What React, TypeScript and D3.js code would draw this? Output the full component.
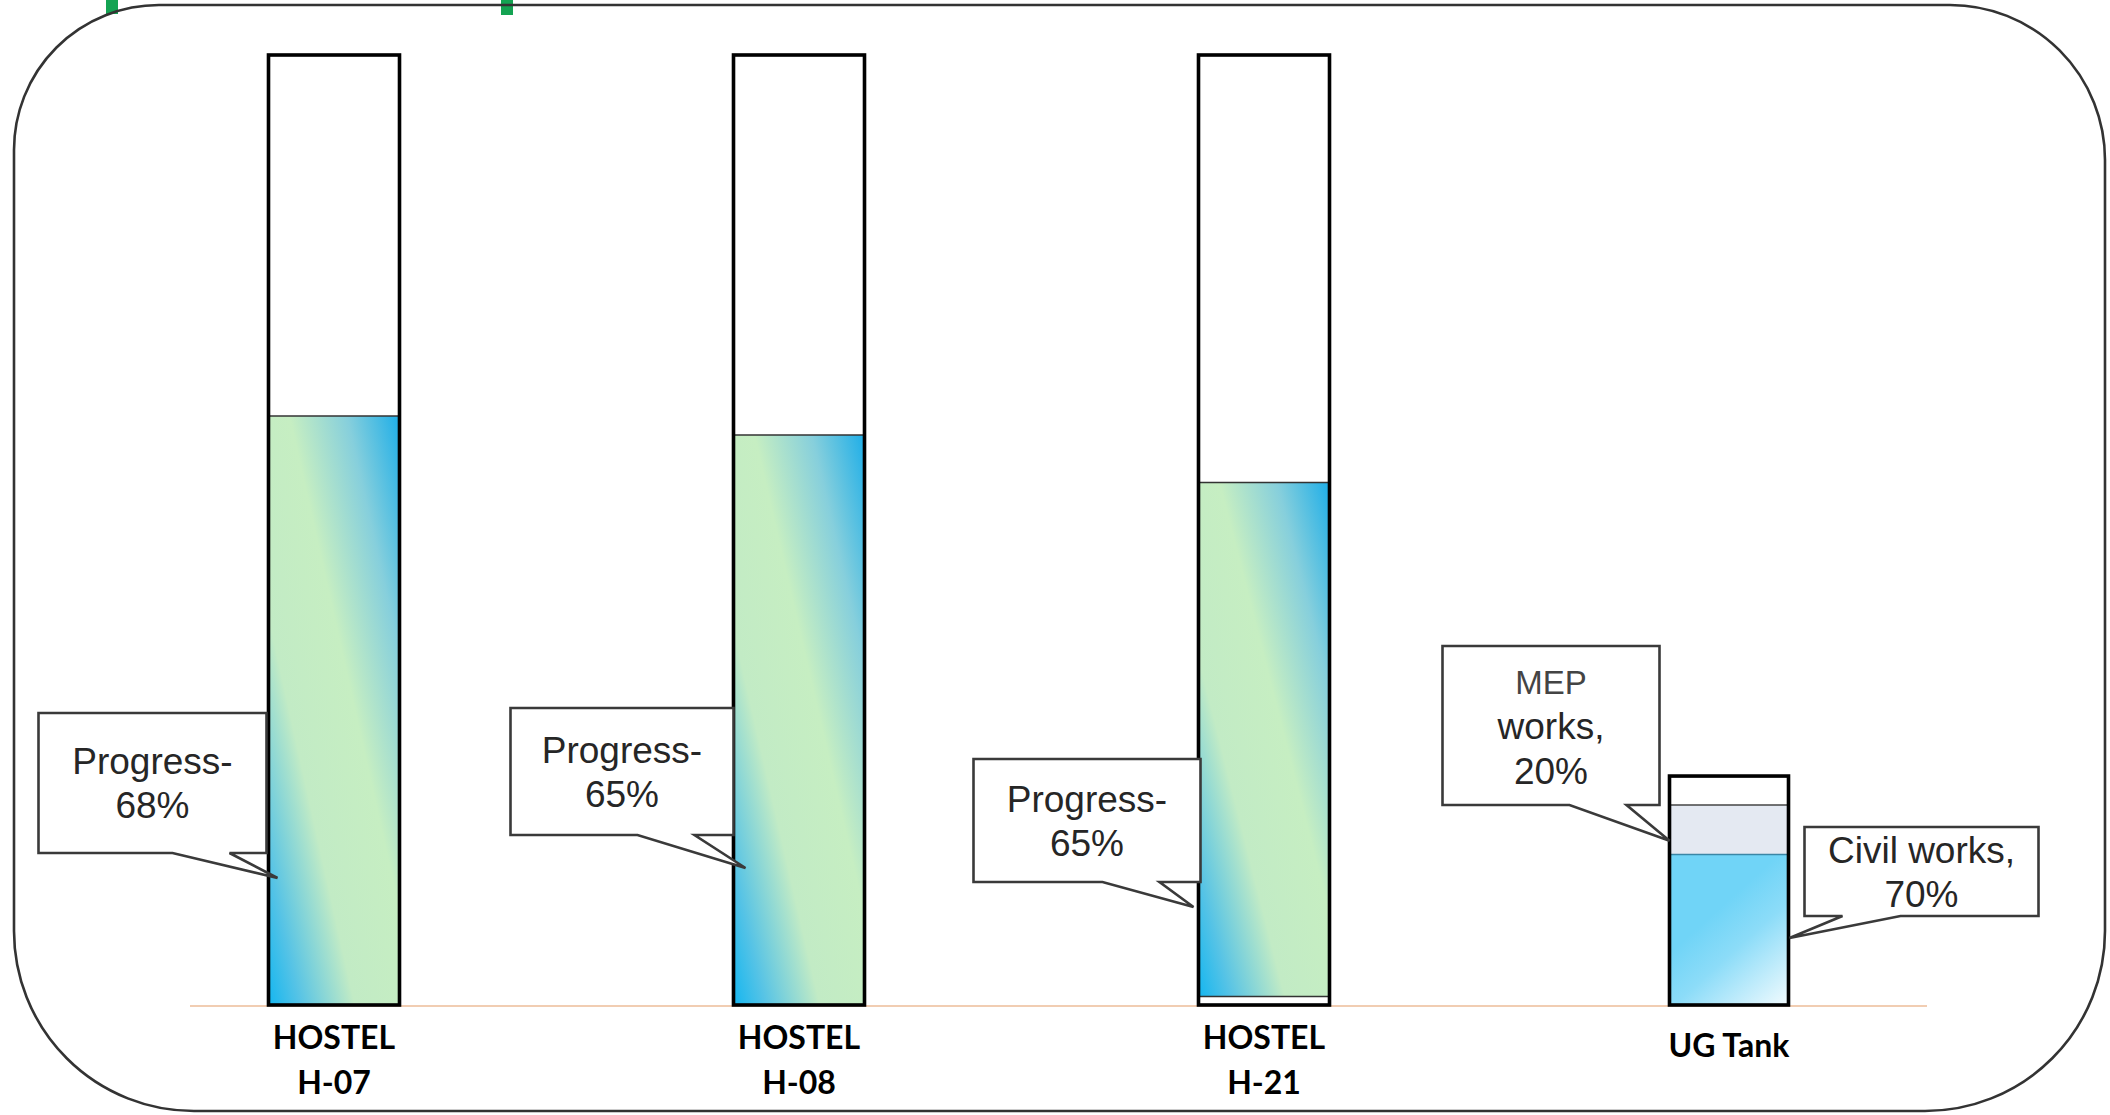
import React from "react";
import * as d3 from "d3";

// ---------- data ----------
const categories = ["HOSTEL H-07", "HOSTEL H-08", "HOSTEL H-21", "UG Tank"];
const labelLines = [["HOSTEL", "H-07"], ["HOSTEL", "H-08"], ["HOSTEL", "H-21"], ["UG Tank"]];
const hostelNames = ["HOSTEL H-07", "HOSTEL H-08", "HOSTEL H-21"];
const hostelProgress = [68, 65, 65]; // % written in callouts
const hostelFillDrawn = [0.62, 0.6, 0.55]; // fill level as drawn (share of bar)
const hostelFillBase = [0, 0, 0.009]; // small empty strip at bottom of H-21
const tankName = "UG Tank";
const tankCapacity = 0.241; // tank height, share of hostel bar height
const tankSegmentNames = ["Civil works", "MEP works"];
const tankSegmentDrawn = [0.657, 0.217]; // drawn shares of tank height
const tankSegmentLabels = [70, 20]; // % written in callouts

// ---------- layout ----------
const W = 2110;
const H = 1115;

export default function App() {
  const x = d3.scalePoint<string>().domain(categories).range([334, 1729]);
  const y = d3.scaleLinear().domain([0, 1]).range([1005, 55]);
  const hostelW = 131;
  const tankW = 119;

  const fontCallout = "'Liberation Sans', Arial, sans-serif";
  const fontLabel = "Lato, 'Open Sans', sans-serif";

  const callout = (
    key: string,
    x0: number,
    x1: number,
    y0: number,
    y1: number,
    a: number,
    b: number,
    tipX: number,
    tipY: number,
    lines: string[],
    sizes?: number[]
  ) => {
    const lh = lines.length > 2 ? 45 : 44;
    const cy = (y0 + y1) / 2;
    const path = `M${x0},${y0}H${x1}V${y1}H${b}L${tipX},${tipY}L${a},${y1}H${x0}Z`;
    return (
      <g key={key}>
        <path d={path} fill="#fff" stroke="#3a3a3a" strokeWidth={2.6} strokeLinejoin="miter" />
        {lines.map((t, i) => (
          <text
            key={i}
            x={(x0 + x1) / 2}
            y={cy - ((lines.length - 1) / 2) * lh + i * lh + 13}
            textAnchor="middle"
            fontFamily={fontCallout}
            fontSize={sizes ? sizes[i] : 37}
            fill={sizes && sizes[i] < 36 ? "#444" : "#262626"}
          >
            {t}
          </text>
        ))}
      </g>
    );
  };

  // per-callout offsets relative to bar left edge
  const hostelCallouts = [
    { y0: 713, y1: 853, tipY: 878, tipDx: 9, left: -230, right: -2 },
    { y0: 708, y1: 835, tipY: 868, tipDx: 12, left: -223, right: 0 },
    { y0: 759, y1: 882, tipY: 907, tipDx: -5, left: -225, right: 2 },
  ];

  const tankCx = x(tankName)!;
  const tL = tankCx - tankW / 2;
  const tR = tankCx + tankW / 2;
  const tankTop = y(tankCapacity);
  const tankH = y(0) - tankTop;
  const civilTop = y(0) - tankH * tankSegmentDrawn[0];
  const mepTop = civilTop - tankH * tankSegmentDrawn[1];

  return (
    <div style={{ position: "absolute", left: 0, top: 0 }}>
      <svg width={W} height={H} viewBox={`0 0 ${W} ${H}`} style={{ display: "block", background: "#fff" }}>
        <defs>
          <linearGradient id="hostelGrad" x1="0" y1="1" x2="1" y2="0">
            <stop offset="0" stopColor="#14b6f0" />
            <stop offset="0.12" stopColor="#55c3e6" />
            <stop offset="0.33" stopColor="#c2ebc5" />
            <stop offset="0.58" stopColor="#c6eec2" />
            <stop offset="0.8" stopColor="#86cfdc" />
            <stop offset="1" stopColor="#1eaee8" />
          </linearGradient>
          <linearGradient id="civilGrad" x1="0.5" y1="0.3" x2="1" y2="1">
            <stop offset="0" stopColor="#70d4f7" />
            <stop offset="0.35" stopColor="#8cdcf8" />
            <stop offset="1" stopColor="#f2fbfe" />
          </linearGradient>
        </defs>

        {/* frame */}
        <rect x={106} y={0} width={12} height={14} fill="#14a352" />
        <rect x={501} y={0} width={12} height={15} fill="#14a352" />
        <path
          d={(() => {
            const l = 14, t = 5, r = 2105, b = 1111;
            const tl = 145, tr = 155, br = 180, bl = 180;
            return `M${l + tl},${t}H${r - tr}A${tr},${tr} 0 0 1 ${r},${t + tr}V${b - br}A${br},${br} 0 0 1 ${r - br},${b}H${l + bl}A${bl},${bl} 0 0 1 ${l},${b - bl}V${t + tl}A${tl},${tl} 0 0 1 ${l + tl},${t}Z`;
          })()}
          fill="none"
          stroke="#333"
          strokeWidth={2.6}
        />

        {/* baseline */}
        <line x1={190} x2={1927} y1={y(0) + 1} y2={y(0) + 1} stroke="#f1cdb2" strokeWidth={2.2} />

        {/* hostel bars */}
        {hostelNames.map((n, i) => {
          const cx = x(n)!;
          const L = cx - hostelW / 2;
          const fillTop = y(hostelFillDrawn[i]);
          const fillBot = y(hostelFillBase[i]);
          return (
            <g key={n}>
              <rect x={L} y={y(1)} width={hostelW} height={y(0) - y(1)} fill="#fff" />
              <rect x={L} y={fillTop} width={hostelW} height={fillBot - fillTop} fill="url(#hostelGrad)" />
              <line x1={L} x2={L + hostelW} y1={fillTop} y2={fillTop} stroke="#333" strokeWidth={1.6} />
              {hostelFillBase[i] > 0 && (
                <line x1={L} x2={L + hostelW} y1={fillBot} y2={fillBot} stroke="#333" strokeWidth={1.6} />
              )}
              <rect x={L} y={y(1)} width={hostelW} height={y(0) - y(1)} fill="none" stroke="#000" strokeWidth={3.6} />
            </g>
          );
        })}

        {/* tank */}
        <g>
          <rect x={tL} y={tankTop} width={tankW} height={tankH} fill="#fff" />
          <rect x={tL} y={mepTop} width={tankW} height={civilTop - mepTop} fill="#e4e9f2" />
          <rect x={tL} y={civilTop} width={tankW} height={y(0) - civilTop} fill="url(#civilGrad)" />
          <line x1={tL} x2={tR} y1={mepTop} y2={mepTop} stroke="#444" strokeWidth={1.5} />
          <line x1={tL} x2={tR} y1={civilTop} y2={civilTop} stroke="#3b86a6" strokeWidth={1.5} />
          <rect x={tL} y={tankTop} width={tankW} height={tankH} fill="none" stroke="#000" strokeWidth={3.6} />
        </g>

        {/* hostel callouts */}
        {hostelNames.map((n, i) => {
          const L = x(n)! - hostelW / 2;
          const c = hostelCallouts[i];
          return callout(
            n,
            L + c.left,
            L + c.right,
            c.y0,
            c.y1,
            L - 96,
            L - 39,
            L + c.tipDx,
            c.tipY,
            ["Progress-", `${hostelProgress[i]}%`]
          );
        })}

        {/* tank callouts */}
        {callout(
          tankSegmentNames[1],
          tL - 227,
          tL - 10,
          646,
          805,
          tL - 100,
          tL - 43,
          tL,
          (mepTop + civilTop) / 2 + 11,
          ["MEP", "works,", `${tankSegmentLabels[1]}%`],
          [33, 37, 37]
        )}
        {callout(
          tankSegmentNames[0],
          tR + 16,
          tR + 250,
          827,
          916,
          tR + 54,
          tR + 112,
          tR + 1,
          938,
          ["Civil works,", `${tankSegmentLabels[0]}%`]
        )}

        {/* category labels */}
        {categories.map((c, i) => {
          const lines = labelLines[i];
          return (
            <text
              key={c}
              x={x(c)!}
              textAnchor="middle"
              fontFamily={fontLabel}
              fontWeight={700}
              fontSize={32}
              fill="#000"
            >
              {lines.map((t, j) => (
                <tspan key={j} x={x(c)!} y={lines.length === 1 ? 1057 : 1049 + j * 45}>
                  {t}
                </tspan>
              ))}
            </text>
          );
        })}
      </svg>
    </div>
  );
}
